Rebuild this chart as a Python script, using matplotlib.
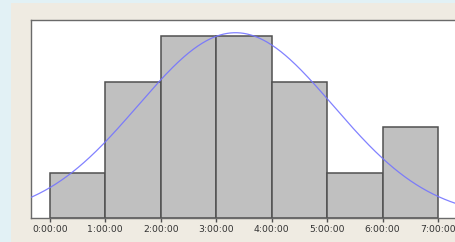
import numpy as np
import matplotlib
matplotlib.use("Agg")
import matplotlib.pyplot as plt

# Data
bin_edges = [0, 1, 2, 3, 4, 5, 6, 7]          # hours
counts = [1, 3, 4, 4, 3, 1, 2]
tick_labels = ["0:00:00", "1:00:00", "2:00:00", "3:00:00",
               "4:00:00", "5:00:00", "6:00:00", "7:00:00"]
fit_mean = 3.35   # hours
fit_sd = 1.76     # hours

W, H = 456, 242
fig = plt.figure(figsize=(W / 100, H / 100), dpi=100)
fig.patch.set_facecolor("#e2f1f5")

# beige panel
bg = fig.add_axes([11 / W, 0, 1 - 11 / W, (H - 3) / H], zorder=-5)
bg.set_facecolor("#efebe2")
bg.set_xticks([]); bg.set_yticks([])
for s in bg.spines.values():
    s.set_visible(False)

ax_left, ax_right = 31, 458
ax_top, ax_bot = 20, 218
ax = fig.add_axes([ax_left / W, (H - ax_bot) / H, (ax_right - ax_left) / W, (ax_bot - ax_top) / H], zorder=1)
ax.set_facecolor("white")

widths = np.diff(bin_edges)
ax.bar(bin_edges[:-1], counts, width=widths, align="edge", color="#c0c0c0",
       edgecolor="#505050", linewidth=1.1, zorder=2)

xs = np.linspace(-0.5, 7.6, 400)
n = sum(counts)
ys = n * 1.0 / (fit_sd * np.sqrt(2 * np.pi)) * np.exp(-0.5 * ((xs - fit_mean) / fit_sd) ** 2)
ax.plot(xs, ys, color="#7474ff", linewidth=0.9, alpha=0.9, zorder=3)

ax.set_xlim(-0.337, 7.36)
ax.set_ylim(0, 4.36)
ax.set_xticks(bin_edges)
ax.set_xticklabels(tick_labels, fontsize=6.7, color="#333333", family="DejaVu Sans")
ax.set_yticks([])
ax.tick_params(axis="x", length=3, width=1, color="#505050", pad=2)
for s in ax.spines.values():
    s.set_color("#6a6a6a")
    s.set_linewidth(1.0)

fig.savefig("out.png", dpi=100, facecolor=fig.get_facecolor())
